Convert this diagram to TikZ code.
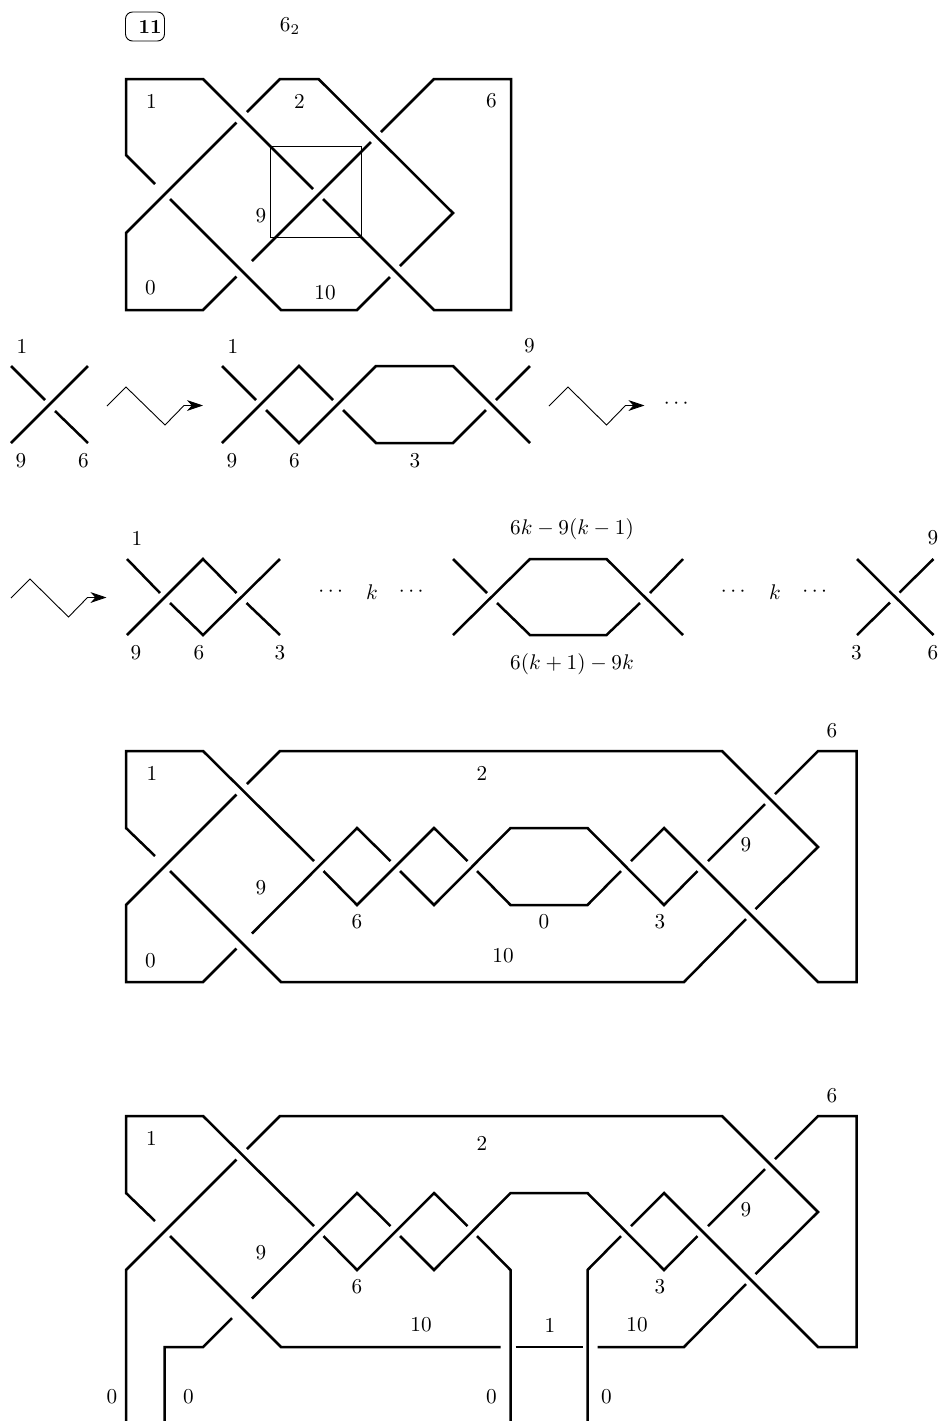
\documentclass[tikz,border=0pt]{standalone}
\usepackage{amsmath,amssymb}
\usepackage{xcolor}
\usetikzlibrary{arrows.meta,positioning}

\begin{document}
\begin{tikzpicture}[
  x=0.5pt,y=-0.5pt,
  strand/.style={line width=1.25pt},
  thinline/.style={line width=0.5pt},
  squiggle/.style={-{Stealth[length=8pt,width=5.4pt,inset=2.4pt]},line width=0.45pt},
  num/.style={inner sep=0pt,scale=1.06},
  tagbox/.style={draw,line width=0.45pt,rounded corners=3.5pt,inner sep=0pt,
    minimum width=19.5pt,minimum height=14.5pt,font=\bfseries}
]
\useasboundingbox (0,0) rectangle (942,1421);

\node[tagbox] (tag) at (145,26.5) {\hspace*{5pt}11};
\node[num] (knotname) at (290,26.5) {$6_2$};

\draw[strand] (155,184) -- (126,155) -- (126,79) -- (203,79) -- (313,189);
\draw[strand] (236.5,122.5) -- (126,233) -- (126,310) -- (203,310) -- (236.5,276.5);
\draw[strand] (247,112) -- (280,79) -- (318.5,79) -- (453,213) -- (400,266);
\draw[strand] (170,199) -- (281,310) -- (357,310) -- (390,277);
\draw[strand] (381,132) -- (434,79) -- (511,79) -- (511,310) -- (434,310) -- (323,199);
\draw[strand] (252,261) -- (371,142);
\draw[thinline] (270.5,146) rectangle (361.5,237);
\node[num] (one-a) at (151.5,101) {1};
\node[num] (two-a) at (299.5,101) {2};
\node[num] (six-a) at (491.5,101) {6};
\node[num] (nine-a) at (261,216) {9};
\node[num] (zero-a) at (150.5,288) {0};
\node[num] (ten-a) at (325,293) {10};

\draw[strand] (11,366) -- (45,400);
\draw[strand] (55,411) -- (88,443);
\draw[strand] (11,443) -- (88,366);
\node[num] (one-b) at (22,346) {1};
\node[num] (nine-b) at (21,461) {9};
\node[num] (six-b) at (83.5,461) {6};
\draw[squiggle] (107,406) -- (126,387) -- (165,425) -- (184,405.5) -- (203,405.5);

\draw[strand] (222,366) -- (256,400);
\draw[strand] (222,443) -- (299,366) -- (333,400);
\draw[strand] (266,410) -- (299,443) -- (376,366) -- (453,366) -- (530,443);
\draw[strand] (343,410) -- (376,443) -- (453,443) -- (486,410);
\draw[strand] (496,400) -- (530,366);
\node[num] (one-c) at (233,346) {1};
\node[num] (nine-c) at (529.5,346) {9};
\node[num] (nine-d) at (232,461) {9};
\node[num] (six-c) at (294.5,461) {6};
\node[num] (three-c) at (415,461) {3};
\draw[squiggle] (549,406) -- (568,387) -- (606.5,425) -- (625.5,405.5) -- (644.5,405.5);
\node[num] (dots-c) at (678,404) {$\cdots$};

\draw[squiggle] (11,598) -- (30,579) -- (68.5,617) -- (87.5,597.5) -- (106.5,597.5);
\draw[strand] (127,559) -- (160,593);
\draw[strand] (127,635) -- (203,559) -- (236.5,593);
\draw[strand] (170,603) -- (203,635) -- (280,559);
\draw[strand] (246.5,603) -- (280,635);
\node[num] (one-e) at (137,538) {1};
\node[num] (nine-e) at (136,653) {9};
\node[num] (six-e) at (199,653) {6};
\node[num] (three-e) at (280,653) {3};
\node[num] (dots-e) at (332.5,592) {$\cdots$};
\node[num] (k-e) at (372,592) {$k$};
\node[num] (dots-f) at (413,592) {$\cdots$};

\draw[strand] (453,559) -- (487,593);
\draw[strand] (453,635) -- (530,559) -- (606.5,559) -- (683,635);
\draw[strand] (497,603) -- (530,635) -- (606.5,635) -- (640,603);
\draw[strand] (650,593) -- (683,559);
\node[num] (upper) at (572,529) {$6k-9(k-1)$};
\node[num] (lower) at (572,664) {$6(k+1)-9k$};
\node[num] (dots-g) at (735,592) {$\cdots$};
\node[num] (k-g) at (775,592) {$k$};
\node[num] (dots-h) at (816.5,592) {$\cdots$};

\draw[strand] (857,559) -- (933.5,635);
\draw[strand] (933.5,559) -- (899.5,592.5);
\draw[strand] (857,635) -- (890,602.5);
\node[num] (nine-h) at (933,538) {9};
\node[num] (three-h) at (856.5,653) {3};
\node[num] (six-h) at (933,653) {6};

\draw[strand] (155,856) -- (126,828) -- (126,751) -- (203,751) -- (314,861);
\draw[strand] (236.5,794.5) -- (126,905) -- (126,982) -- (203,982) -- (236.5,948.5);
\draw[strand] (247,784) -- (280,751) -- (722,751) -- (818,847) -- (755.5,909);
\draw[strand] (170,871) -- (281,982) -- (684,982) -- (746,919);
\draw[strand] (775,794) -- (818,751) -- (856.5,751) -- (856.5,982) -- (818,982) -- (664,828) -- (631,861);
\draw[strand] (252,933.5) -- (357,828) -- (390.5,861);
\draw[strand] (323.5,871) -- (357,905) -- (434,828) -- (467.5,861);
\draw[strand] (400,871) -- (434,905) -- (510.5,828) -- (587.5,828) -- (664,905) -- (697.5,871);
\draw[strand] (477,871) -- (510.5,905) -- (587.5,905) -- (621,871);
\draw[strand] (708,861) -- (765,804);
\node[num] (six-j) at (832,731) {6};
\node[num] (one-j) at (152,773) {1};
\node[num] (two-j) at (482,773) {2};
\node[num] (nine-j) at (261,888) {9};
\node[num] (nine-k) at (746,845) {9};
\node[num] (six-k) at (357,922) {6};
\node[num] (zero-k) at (544,922) {0};
\node[num] (three-k) at (660,922) {3};
\node[num] (ten-k) at (503,956) {10};
\node[num] (zero-j) at (150.5,960.5) {0};

\draw[strand] (155,1221) -- (126,1193) -- (126,1116) -- (203,1116) -- (314,1226);
\draw[strand] (236.5,1159.5) -- (126,1270) -- (126,1421);
\draw[strand] (247,1149) -- (280,1116) -- (722,1116) -- (818,1212) -- (755.5,1274);
\draw[strand] (170,1236) -- (281,1347) -- (500.5,1347);
\draw[strand] (515.5,1347) -- (582.5,1347);
\draw[strand] (597.5,1347) -- (684,1347) -- (746,1284);
\draw[strand] (775,1159) -- (818,1116) -- (856.5,1116) -- (856.5,1347) -- (818,1347) -- (664,1193) -- (631,1226);
\draw[strand] (252,1298.5) -- (357,1193) -- (390.5,1226);
\draw[strand] (323.5,1236) -- (357,1270) -- (434,1193) -- (467.5,1226);
\draw[strand] (400,1236) -- (434,1270) -- (510.5,1193) -- (587.5,1193) -- (664,1270) -- (697.5,1236);
\draw[strand] (708,1226) -- (765,1169);
\draw[strand] (477,1236) -- (510.5,1270) -- (510.5,1421);
\draw[strand] (621,1236) -- (587.5,1270) -- (587.5,1421);
\draw[strand] (232,1318) -- (203,1347) -- (164.5,1347) -- (164.5,1421);
\node[num] (six-m) at (832,1096) {6};
\node[num] (one-m) at (151.5,1138) {1};
\node[num] (two-m) at (482,1143) {2};
\node[num] (nine-m) at (261,1253) {9};
\node[num] (nine-n) at (746,1210) {9};
\node[num] (six-n) at (357,1287) {6};
\node[num] (three-n) at (660,1287) {3};
\node[num] (ten-n) at (421,1325) {10};
\node[num] (one-n) at (550,1325) {1};
\node[num] (ten-o) at (637,1325) {10};
\node[num] (zero-m) at (112,1397) {0};
\node[num] (zero-n) at (188.5,1397) {0};
\node[num] (zero-o) at (491.5,1397) {0};
\node[num] (zero-p) at (606.5,1397) {0};
\end{tikzpicture}
\end{document}
